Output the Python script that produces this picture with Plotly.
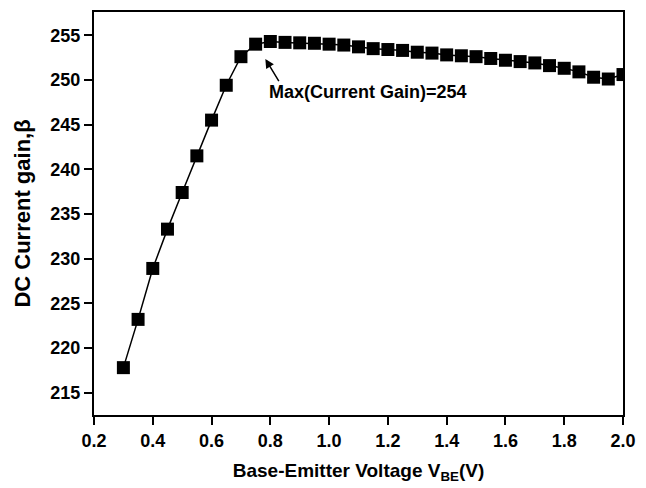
import plotly.graph_objects as go

vbe = [0.30, 0.35, 0.40, 0.45, 0.50, 0.55, 0.60, 0.65, 0.70, 0.75, 0.80, 0.85,
       0.90, 0.95, 1.00, 1.05, 1.10, 1.15, 1.20, 1.25, 1.30, 1.35, 1.40, 1.45,
       1.50, 1.55, 1.60, 1.65, 1.70, 1.75, 1.80, 1.85, 1.90, 1.95, 2.00]
beta = [217.8, 223.2, 228.9, 233.3, 237.4, 241.5, 245.5, 249.4, 252.6, 254.0,
        254.3, 254.2, 254.15, 254.1, 254.0, 253.9, 253.7, 253.5, 253.4, 253.3,
        253.1, 253.0, 252.8, 252.7, 252.6, 252.4, 252.2, 252.05, 251.9, 251.6,
        251.3, 250.9, 250.3, 250.1, 250.6]

x_ticks = [0.2, 0.4, 0.6, 0.8, 1.0, 1.2, 1.4, 1.6, 1.8, 2.0]
y_ticks = [215, 220, 225, 230, 235, 240, 245, 250, 255]

ann_text = "Max(Current Gain)=254"
arrow_head = (0.783, 252.35)
arrow_tail = (0.832, 249.7)
text_pos = (0.787, 248.6)

FONT = "Arial, Liberation Sans, sans-serif"

fig = go.Figure()
fig.add_trace(go.Scatter(
    x=vbe, y=beta, mode="lines+markers",
    line=dict(color="black", width=1.5),
    marker=dict(symbol="square", size=13, color="black"),
    showlegend=False,
))

fig.add_annotation(
    x=arrow_head[0], y=arrow_head[1], ax=arrow_tail[0], ay=arrow_tail[1],
    xref="x", yref="y", axref="x", ayref="y",
    text="", showarrow=True, arrowhead=2, arrowsize=1.2, arrowwidth=1.5,
    arrowcolor="black",
)
fig.add_annotation(
    x=text_pos[0], y=text_pos[1], xref="x", yref="y",
    text=ann_text, showarrow=False, xanchor="left", yanchor="middle",
    font=dict(family=FONT, size=18, color="black", weight="bold"),
)

axis_common = dict(
    showline=True, linecolor="black", linewidth=2, mirror=True,
    ticks="outside", ticklen=8, tickwidth=2, tickcolor="black",
    showgrid=False, zeroline=False,
    tickfont=dict(family=FONT, size=18, color="black", weight="bold"),
)

fig.update_xaxes(
    range=[0.2, 2.0], tickvals=x_ticks, tickformat=".1f",
    title=dict(text="Base-Emitter Voltage V<sub>BE</sub>(V)", standoff=14,
               font=dict(family=FONT, size=19, color="black", weight="bold")),
    **axis_common,
)
fig.update_yaxes(
    range=[212.5, 257.6], tickvals=y_ticks,
    title=dict(text="DC Current gain,β", standoff=14,
               font=dict(family=FONT, size=22, color="black", weight="bold")),
    **axis_common,
)

fig.update_layout(
    width=646, height=488,
    margin=dict(l=94, r=15, t=10, b=70),
    paper_bgcolor="white", plot_bgcolor="white",
)

fig.write_html("out.html")
